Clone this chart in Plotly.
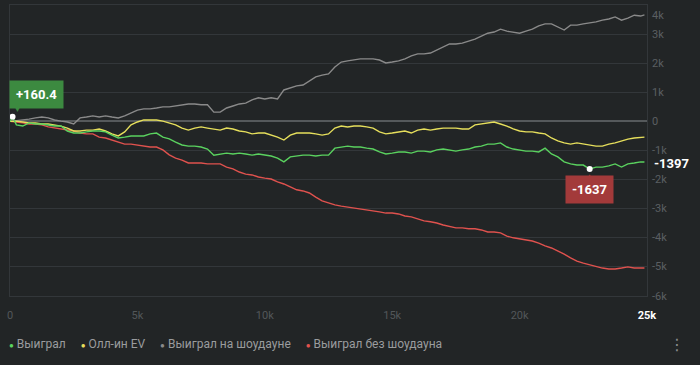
import plotly.graph_objects as go

# ---- data ----
hands = [0, 100] + list(range(250, 25000, 250)) + [24900]

won = [0, 160.4,
       -120, -160, -50, -90, -90, -120, -160, -160, -330, -400,
       -400, -360, -330, -330, -360, -470, -570, -540, -500, -500,
       -500, -430, -400, -540, -600, -710, -810, -850, -850, -880,
       -950, -1160, -1120, -1090, -1120, -1090, -1120, -1160, -1120, -1160,
       -1190, -1260, -1390, -1220, -1190, -1160, -1160, -1190, -1160, -1160,
       -920, -880, -850, -880, -880, -920, -950, -1050, -1120, -1090,
       -1050, -1050, -1090, -1020, -1020, -1050, -980, -950, -980, -1020,
       -980, -950, -880, -850, -780, -780, -740, -880, -950, -980,
       -1020, -1020, -1050, -920, -1120, -1220, -1390, -1460, -1500, -1500,
       -1637, -1570, -1570, -1530, -1460, -1570, -1460, -1430, -1390, -1397]

allin_ev = [0, 10,
            10, -20, -50, -50, -90, -90, -120, -160, -230, -330,
            -330, -300, -300, -260, -330, -430, -500, -360, -120, -20,
            50, 50, 50, 10, -50, -120, -230, -300, -230, -190,
            -230, -260, -300, -230, -260, -330, -360, -430, -400, -400,
            -470, -540, -640, -470, -400, -400, -400, -430, -470, -430,
            -230, -160, -190, -160, -160, -190, -230, -360, -430, -400,
            -360, -330, -400, -300, -260, -300, -260, -230, -230, -230,
            -260, -260, -120, -90, -50, -20, -90, -160, -260, -330,
            -360, -360, -400, -430, -570, -670, -740, -780, -740, -780,
            -810, -850, -850, -780, -740, -670, -610, -570, -540, -540]

showdown = [0, 10,
            10, 50, 80, 120, 150, 120, 50, 10, -20, -90,
            120, 150, 190, 150, 190, 150, 120, 190, 290, 390,
            430, 430, 460, 500, 500, 530, 570, 600, 600, 570,
            570, 320, 320, 460, 530, 600, 630, 740, 810, 770,
            810, 770, 1080, 1150, 1220, 1250, 1390, 1530, 1590, 1630,
            1870, 2040, 2080, 2110, 2150, 2150, 2150, 2110, 2010, 2040,
            2080, 2150, 2250, 2320, 2320, 2350, 2460, 2560, 2660, 2660,
            2690, 2760, 2830, 2930, 3030, 3070, 3170, 3100, 3070, 3030,
            3100, 3170, 3280, 3350, 3350, 3240, 3140, 3310, 3310, 3350,
            3380, 3420, 3480, 3520, 3590, 3480, 3550, 3650, 3620, 3660]

non_showdown = [0, 0,
                -20, -50, -90, -90, -120, -190, -230, -260, -300, -330,
                -400, -430, -430, -540, -570, -640, -710, -780, -780, -810,
                -850, -880, -880, -980, -1150, -1260, -1330, -1430, -1430, -1430,
                -1460, -1460, -1460, -1570, -1630, -1740, -1810, -1840, -1910, -1950,
                -1980, -2080, -2150, -2250, -2350, -2390, -2460, -2600, -2730, -2800,
                -2870, -2910, -2940, -2970, -3010, -3040, -3080, -3110, -3150, -3150,
                -3180, -3250, -3280, -3350, -3420, -3450, -3490, -3560, -3620, -3660,
                -3660, -3690, -3690, -3730, -3800, -3800, -3830, -3940, -4000, -4040,
                -4070, -4110, -4180, -4280, -4350, -4450, -4560, -4690, -4800, -4870,
                -4930, -5000, -5040, -5070, -5070, -5040, -5000, -5040, -5040, -5040]

series_names = ["Выиграл", "Олл-ин EV", "Выиграл на шоудауне", "Выиграл без шоудауна"]
series_colors = ["#5ad25f", "#e6df5c", "#8a8a8a", "#e0524e"]
series_values = [won, allin_ev, showdown, non_showdown]

x_tick_vals = [0, 5000, 10000, 15000, 20000, 25000]
x_tick_text = ["0", "5k", "10k", "15k", "20k", "25k"]
y_tick_vals = [4000, 3000, 2000, 1000, 0, -1000, -2000, -3000, -4000, -5000, -6000]
y_tick_text = ["4k", "3k", "2k", "1k", "0", "-1k", "-2k", "-3k", "-4k", "-5k", "-6k"]

BG = "#222526"
GRID = "#33373a"
FONT = "Roboto"

fig = go.Figure()
# draw gray, red first, then yellow, then green on top
for idx in [2, 3, 1, 0]:
    fig.add_trace(go.Scatter(x=hands, y=series_values[idx], mode="lines",
                             line=dict(color=series_colors[idx], width=1.4),
                             name=series_names[idx], showlegend=False,
                             hoverinfo="skip"))

# highlighted points on the main series
peak_i = max(range(len(won)), key=lambda i: won[i])
min_i = min(range(len(won)), key=lambda i: won[i])
last_i = len(won) - 1
fig.add_trace(go.Scatter(x=[hands[peak_i], hands[min_i]], y=[won[peak_i], won[min_i]],
                         mode="markers", marker=dict(color="#ffffff", size=6),
                         showlegend=False, hoverinfo="skip"))

annotations = []
# peak label (green)
annotations.append(dict(x=hands[peak_i], y=won[peak_i], text="<b>+%.1f</b>" % won[peak_i],
                        showarrow=False, xanchor="left", yanchor="bottom", xshift=-4, yshift=8,
                        bgcolor="#3c8a40", borderpad=6, font=dict(color="#ffffff", size=13, family=FONT)))
annotations.append(dict(x=hands[peak_i], y=won[peak_i], text="▼", showarrow=False,
                        xanchor="left", yanchor="bottom", xshift=-1, yshift=2,
                        font=dict(color="#3c8a40", size=9, family="DejaVu Sans")))
# min label (red)
annotations.append(dict(x=hands[min_i], y=won[min_i], text="<b>%d</b>" % round(won[min_i]),
                        showarrow=False, xanchor="center", yanchor="top", yshift=-6,
                        bgcolor="#a33a3a", borderpad=6, font=dict(color="#ffffff", size=13, family=FONT)))
annotations.append(dict(x=hands[min_i], y=won[min_i], text="▲", showarrow=False,
                        xanchor="center", yanchor="top", yshift=-1,
                        font=dict(color="#a33a3a", size=9, family="DejaVu Sans")))
# last value
annotations.append(dict(x=hands[last_i], y=won[last_i], text="<b>%d</b>" % round(won[last_i]),
                        showarrow=False, xanchor="left", yanchor="middle", xshift=8, yshift=-1,
                        font=dict(color="#ffffff", size=13, family=FONT)))
# y tick labels on the right (top one kept inside)
for v, t in zip(y_tick_vals, y_tick_text):
    annotations.append(dict(x=1, xref="paper", y=v, yref="y", text=t, showarrow=False,
                            xanchor="left", yanchor="middle", xshift=3,
                            yshift=-10 if v == max(y_tick_vals) else 0,
                            font=dict(color="#5b5f62", size=11, family=FONT)))
# legend as one line of text
sep = "&nbsp;" * 5
legend_text = sep.join("<span style='color:%s;font-size:8px'>●</span> %s" % (c, n)
                       for n, c in zip(series_names, series_colors))
annotations.append(dict(x=-0.004, xref="paper", y=-0.165, yref="paper", text=legend_text,
                        showarrow=False, xanchor="left", yanchor="middle",
                        font=dict(color="#9a9c9e", size=12, family=FONT)))
annotations.append(dict(x=1.047, xref="paper", y=-0.165, yref="paper", text="⋮",
                        showarrow=False, xanchor="center", yanchor="middle",
                        font=dict(color="#8a8c8e", size=16, family="DejaVu Sans")))

tick_text = x_tick_text[:-1] + ["<b><span style='color:#ffffff'>%s</span></b>" % x_tick_text[-1]]

fig.update_layout(
    width=700, height=365,
    margin=dict(l=10, r=53, t=5, b=69),
    paper_bgcolor=BG, plot_bgcolor=BG,
    showlegend=False,
    annotations=annotations,
    xaxis=dict(range=[0, 25000], tickvals=x_tick_vals, ticktext=tick_text,
               showgrid=False, zeroline=False, showline=True, mirror=True,
               linecolor=GRID, linewidth=1, ticks="outside", ticklen=9,
               tickcolor=BG, tickfont=dict(color="#53575a", size=11, family=FONT)),
    yaxis=dict(range=[-6000, 4000], tickvals=y_tick_vals, showticklabels=False,
               showgrid=True, gridcolor=GRID, gridwidth=1,
               zeroline=True, zerolinecolor="#55595b", zerolinewidth=1.5,
               showline=True, mirror=True, linecolor=GRID, side="right"),
)

fig.write_html("out.html", config={"displayModeBar": False},
               post_script="document.body.style.margin='0';document.body.style.background='%s';" % BG)
